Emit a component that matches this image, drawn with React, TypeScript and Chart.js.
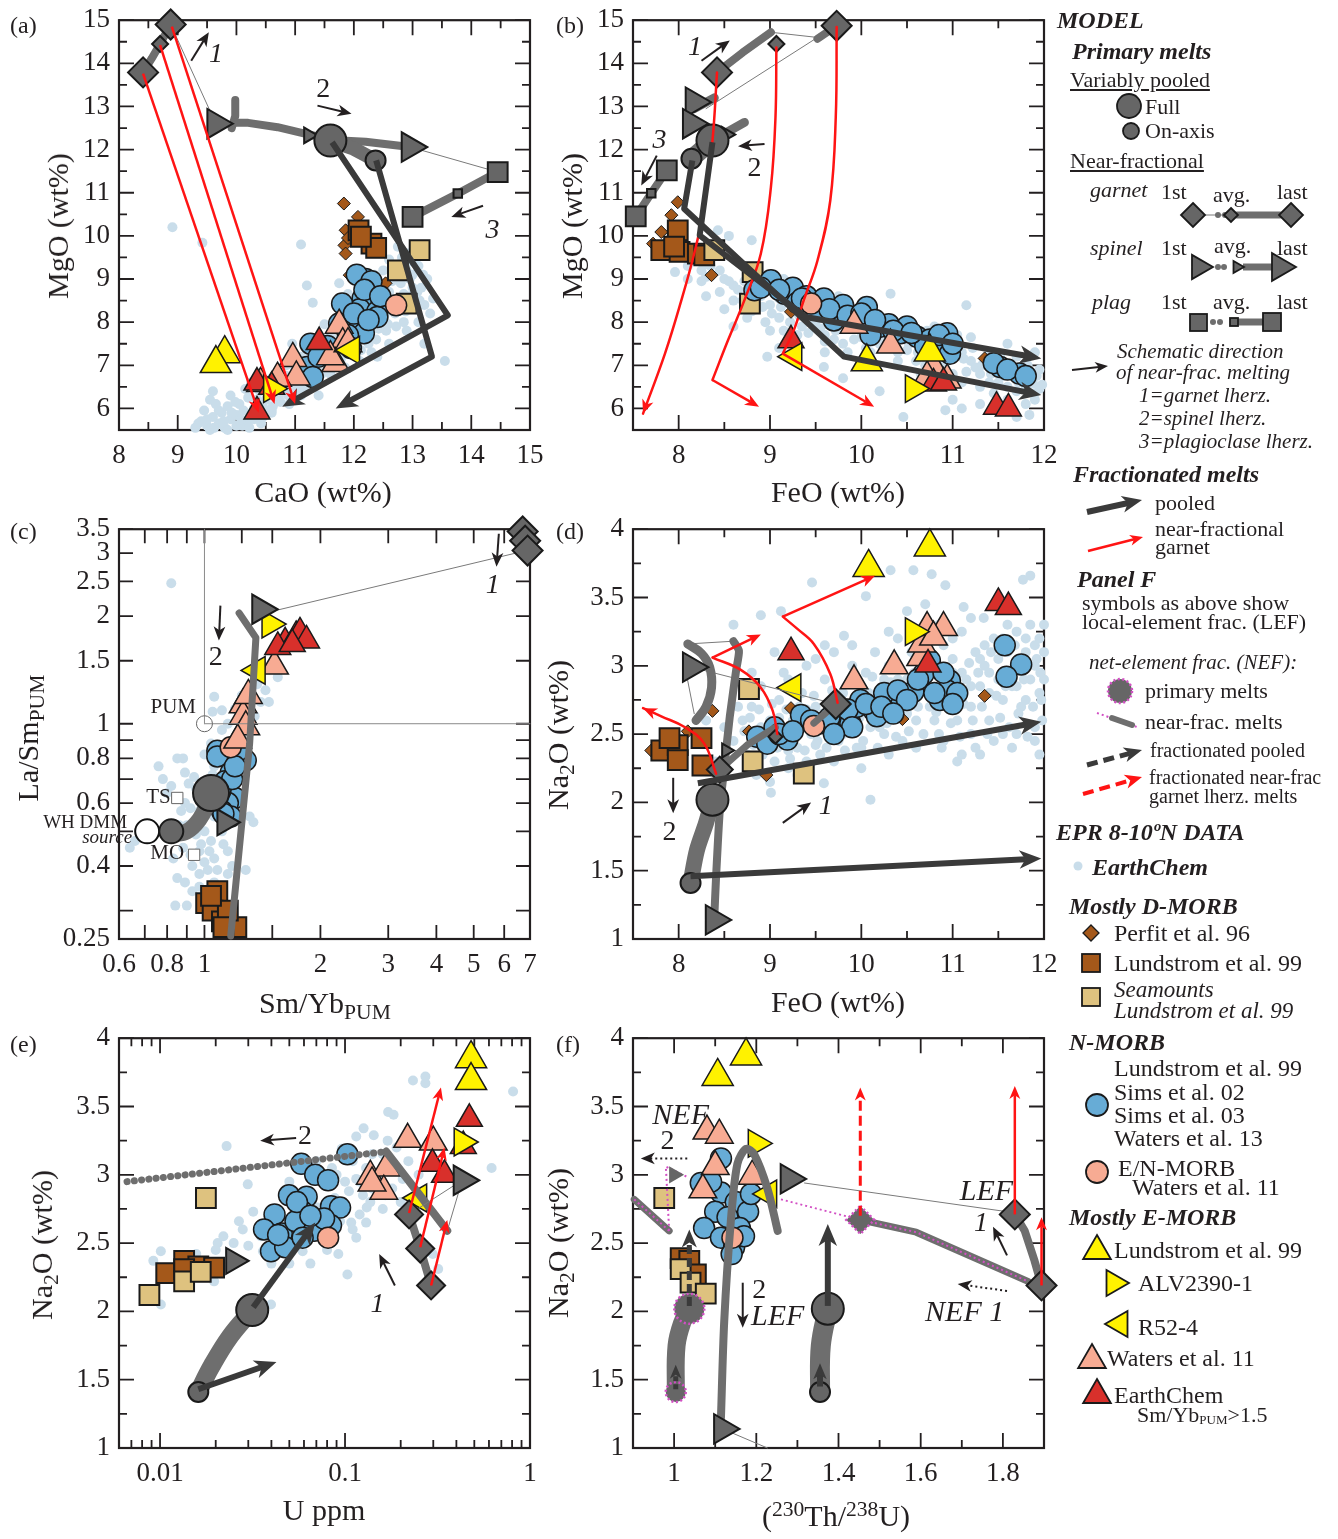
import React, { useEffect, useRef } from 'react';
import { Chart, registerables } from 'chart.js';

Chart.register(...registerables);

type P = [number, number];

// ---------------- axis ticks ----------------
const CAO_TICKS = [8, 8.5, 9, 9.5, 10, 10.5, 11, 11.5, 12, 12.5, 13, 13.5, 14, 14.5, 15];
const CAO_LABELS = [8, 9, 10, 11, 12, 13, 14, 15];
const MGO_TICKS = [5.5, 6, 6.5, 7, 7.5, 8, 8.5, 9, 9.5, 10, 10.5, 11, 11.5, 12, 12.5, 13, 13.5, 14, 14.5, 15];
const MGO_LABELS = [6, 7, 8, 9, 10, 11, 12, 13, 14, 15];
const FEO_TICKS = [7.5, 8, 8.5, 9, 9.5, 10, 10.5, 11, 11.5, 12];
const FEO_LABELS = [8, 9, 10, 11, 12];
const NA_TICKS = [1, 1.25, 1.5, 1.75, 2, 2.25, 2.5, 2.75, 3, 3.25, 3.5, 3.75, 4];
const NA_LABELS = [1, 1.5, 2, 2.5, 3, 3.5, 4];
const SMYB_TICKS = [0.6, 0.7, 0.8, 0.9, 1, 1.25, 1.5, 2, 3, 4, 5, 6, 7];
const SMYB_LABELS = [0.6, 0.8, 1, 2, 3, 4, 5, 6, 7];
const LASM_TICKS = [0.25, 0.3, 0.4, 0.5, 0.6, 0.7, 0.8, 0.9, 1, 1.5, 2, 2.5, 3, 3.5];
const LASM_LABELS = [0.25, 0.4, 0.6, 0.8, 1, 1.5, 2, 2.5, 3, 3.5];
const U_TICKS = [0.006, 0.007, 0.008, 0.009, 0.01, 0.02, 0.03, 0.04, 0.05, 0.06, 0.07, 0.08, 0.09, 0.1, 0.2, 0.3, 0.4, 0.5, 0.6, 0.7, 0.8, 0.9, 1];
const U_LABELS = [0.01, 0.1, 1];
const TH_TICKS = [0.9, 1, 1.1, 1.2, 1.3, 1.4, 1.5, 1.6, 1.7, 1.8, 1.9];
const TH_LABELS = [1, 1.2, 1.4, 1.6, 1.8];

// ---------------- panel (a): CaO vs MgO ----------------
const A_CLOUD: P[] = [[9.3,5.55],[9.4,5.7],[9.5,5.6],[9.6,5.8],[9.7,5.65],[9.75,5.9],[9.85,6.05],[9.9,5.75],[10.0,5.85],[10.05,6.1],[10.1,5.6],[10.2,6.25],[10.3,6.0],[10.4,6.4],[10.5,6.2],[10.55,6.55],[10.65,6.35],[10.7,6.8],[10.8,6.6],[10.85,7.0],[10.9,6.45],[11.0,6.9],[11.1,7.2],[11.2,6.6],[11.3,7.1],[11.35,7.4],[11.45,6.8],[11.55,7.3],[11.6,7.7],[11.7,7.0],[11.8,7.6],[11.9,8.0],[12.0,7.3],[12.05,7.8],[12.15,8.2],[12.25,7.5],[12.35,8.0],[12.45,8.4],[12.55,7.8],[12.6,8.7],[12.7,8.2],[12.8,8.9],[12.85,8.0],[12.95,8.6],[13.05,8.3],[13.15,8.8],[13.1,9.3],[12.9,9.6],[12.75,9.75],[13.0,9.1],[12.5,9.2],[11.2,8.85],[11.3,8.45],[11.75,8.9],[11.1,9.8],[9.42,9.84],[8.91,10.2],[13.55,7.1],[13.2,7.5],[13.3,8.2],[10.6,5.9],[9.55,6.2],[9.6,6.4],[10.25,6.6],[10.95,7.5],[11.5,7.95],[13.35,8.55],[12.3,8.8],[11.95,8.45],[9.8,5.55],[10.2,5.7],[10.45,5.8],[10.75,6.15],[11.05,6.5],[11.4,6.3],[12.4,7.2],
  [9.45,5.95],[9.65,6.1],[9.9,6.3],[10.15,6.45],[10.35,6.2],[10.6,6.7],[10.85,6.75],[11.05,7.05],[11.25,7.3],[11.5,7.55],[11.7,7.85],[11.85,8.2],[12.1,8.5],[12.3,8.3],[12.5,8.6],[12.65,8.95],[12.8,9.3],[12.95,9.0],[13.1,8.0],[12.9,7.8],[12.6,7.5],[12.3,7.3],[12.1,7.1],[11.85,6.95],[11.6,6.8],[11.35,6.55],[11.1,6.3],[10.9,6.1],[10.6,5.95],[10.3,5.75],[10.0,5.6],[9.55,5.5],[9.85,5.5],[10.45,6.05],[10.7,6.5],[11.2,7.0],[11.45,7.2],[12.5,8.0],[12.7,8.5],[13.0,8.8],[12.85,8.65],[12.2,7.9],[11.65,7.45],[13.2,8.4],[12.35,9.1],[12.6,9.45],[12.9,9.2],[13.25,9.0],[11.9,8.65],[12.2,8.7],
  [9.35,5.65],[9.5,5.75],[9.62,5.55],[9.7,5.95],[9.78,5.7],[9.92,5.9],[9.98,6.15],[10.08,5.75],[10.12,5.95],[10.22,5.55],[10.28,5.85],[10.38,6.1],[10.42,5.65],[10.5,5.95],[10.58,6.3],[10.62,6.05],[10.72,6.25],[10.78,6.45],[10.88,6.3],[10.95,6.6],[11.02,6.4],[11.08,6.75],[11.15,6.5],[11.22,6.85],[11.3,6.65],[11.38,6.95],[11.42,7.3],[11.5,7.05],[11.58,7.1],[11.65,7.6],[11.72,7.3],[11.78,7.15],[11.85,7.5],[11.92,7.25],[12.02,7.55],[12.08,7.65],[12.12,7.35],[12.2,7.6],[12.28,7.75],[12.38,7.6],[12.42,7.85],[12.52,8.15],[12.58,7.95],[12.65,8.3],[12.72,7.9],[12.78,8.4],[12.88,8.25],[12.92,8.45],[13.0,8.55],[13.08,8.7],[13.12,8.5],[13.18,9.1],[13.0,9.4],[12.82,9.5],[12.68,9.1]];
const A_PERFIT: P[] = [[11.83,10.75],[12.07,10.44],[11.86,10.13],[11.84,9.78],[11.86,9.59],[11.93,9.09],[12.54,8.9],[11.9,9.95]];
const A_LUND: P[] = [[12.08,10.13],[12.3,9.82],[12.38,9.72],[12.12,9.98]];
const A_SEA: P[] = [[13.12,9.67],[12.75,9.2],[12.9,8.43]];
const A_BLUE: P[] = [[12.2,9.0],[12.25,8.8],[12.3,8.65],[12.15,8.55],[12.35,8.45],[12.1,8.3],[12.4,8.25],[12.05,9.1],[11.8,8.43],[12.05,7.9],[12.4,8.12],[11.26,7.5],[11.2,6.96],[11.3,6.73],[11.75,7.97],[12.17,7.74],[11.9,7.7],[12.0,8.2],[11.55,7.45],[11.4,7.2],[12.25,8.05],[11.95,7.4],[12.3,8.95],[12.18,8.75],[12.45,8.6]];
const A_SALC: P[] = [[12.72,8.39]];
const A_SALT: P[] = [[11.75,7.93],[11.81,7.5],[10.96,7.16],[11.69,7.04],[11.02,6.73],[10.41,6.58],[11.6,7.2],[11.9,7.5],[10.7,6.7]];
const A_RED: P[] = [[11.41,7.54],[10.35,6.6],[10.35,5.93],[10.6,6.5]];
const A_YEL: P[] = [[9.8,7.27],[9.65,7.04]];
const A_ALV: P[] = [[10.6,6.46]];
const A_R52: P[] = [[11.96,7.35]];
const A_GARNET_LINE: P[] = [[8.41,13.79],[8.56,14.12],[8.7,14.45],[8.88,14.9]];
const A_GARNET: P[] = [[8.41,13.79],[8.7,14.45],[8.88,14.9]];
const A_SPINEL_STUB: P[] = [[9.98,13.15],[9.98,12.78],[9.92,12.5]];
const A_SPINEL_LINE: P[] = [[9.95,12.62],[10.2,12.62],[10.7,12.52],[11.2,12.36],[11.7,12.22],[12.2,12.18],[12.96,12.06]];
const A_SPINEL: P[] = [[9.65,12.6],[11.23,12.33],[12.96,12.06]];
const A_PLAG: P[] = [[13.0,10.44],[13.77,10.98],[14.45,11.48]];
const A_POOLED: P[] = [[11.6,12.21],[12.0,12.02],[12.37,11.75]];
const A_FULL: P[] = [[11.6,12.21]];
const A_ONAXIS: P[] = [[12.37,11.75]];
const A_LINK_1: P[] = [[8.88,14.9],[9.65,12.6]];
const A_LINK_2: P[] = [[12.96,12.06],[14.45,11.48]];
const A_FRAC_1: P[] = [[11.63,12.17],[13.6,8.16],[10.78,6.04]];
const A_FRAC_2: P[] = [[12.38,11.75],[13.33,7.2],[11.69,6.0]];
const A_RED_1: P[] = [[8.41,13.76],[10.38,5.9]];
const A_RED_2: P[] = [[8.7,14.42],[10.65,6.1]];
const A_RED_3: P[] = [[8.9,14.85],[11.0,6.1]];
const A_NOTE_1: P[] = [[9.23,14.06],[9.53,14.72]];
const A_NOTE_2: P[] = [[11.38,13.02],[11.96,12.83]];
const A_NOTE_3: P[] = [[14.2,10.7],[13.66,10.44]];

// ---------------- panel (b): FeO vs MgO ----------------
const B_CLOUD: P[] = [[7.96,9.16],[8.1,9.3],[8.2,9.5],[8.3,9.05],[8.35,9.3],[8.5,9.0],[8.6,8.85],[8.7,8.5],[8.75,8.75],[8.8,9.9],[8.85,8.3],[8.9,8.6],[8.95,8.0],[9.0,8.4],[9.05,8.9],[9.1,8.1],[9.15,7.8],[9.2,8.6],[9.3,8.5],[9.35,7.9],[9.4,8.25],[9.5,8.0],[9.55,8.45],[9.6,7.7],[9.7,8.1],[9.75,8.6],[9.8,7.5],[9.9,7.85],[10.0,8.1],[10.05,7.4],[10.14,7.89],[10.25,7.7],[10.32,8.66],[10.4,7.3],[10.5,7.74],[10.6,7.1],[10.7,7.55],[10.8,6.9],[10.86,7.58],[10.95,7.2],[11.05,7.7],[11.15,8.39],[11.2,7.1],[11.3,6.8],[11.4,7.3],[11.5,6.6],[11.59,6.96],[11.7,7.2],[11.8,6.5],[11.88,6.58],[11.95,6.9],[11.84,5.85],[10.46,5.8],[10.92,5.96],[11.0,6.2],[11.3,6.1],[9.59,6.96],[8.97,7.2],[9.1,7.4],[8.6,7.9],[8.43,10.13],[8.55,10.0],[9.8,6.7],[10.2,6.4],[11.6,6.2],[11.7,5.8],[8.4,9.55],[8.25,9.2],[9.25,7.6],[9.6,7.3],[10.1,7.05],[10.65,6.8],[11.1,6.6],[11.45,6.35],[11.9,6.2],
  [8.1,9.0],[8.25,8.95],[8.45,8.7],[8.6,8.5],[8.8,8.25],[8.95,8.7],[9.1,8.55],[9.25,8.3],[9.4,8.05],[9.55,7.85],[9.7,7.6],[9.85,7.9],[10.0,7.65],[10.2,7.5],[10.35,7.85],[10.5,7.35],[10.65,7.6],[10.8,7.25],[10.95,7.45],[11.1,7.3],[11.25,6.95],[11.4,7.05],[11.55,6.75],[11.7,6.7],[11.85,6.85],[11.95,6.45],[11.6,6.5],[11.3,6.5],[11.0,6.8],[10.7,7.0],[10.4,7.1],[10.1,7.3],[9.85,7.3],[9.6,7.55],[9.3,7.7],[9.0,7.8],[8.75,8.1],[8.5,8.3],[8.3,8.6],[9.15,9.0],[9.45,8.7],[9.9,8.3],[10.35,8.05],[10.8,7.9],[11.2,7.65],[11.6,7.5],[11.9,7.3],[11.8,6.1],[11.5,5.95],[11.1,6.0],
  [8.15,9.45],[8.3,9.35],[8.45,9.2],[8.55,8.95],[8.65,8.75],[8.72,8.95],[8.82,8.55],[8.92,8.35],[9.02,8.2],[9.12,8.35],[9.22,8.0],[9.32,8.15],[9.42,7.75],[9.52,8.2],[9.62,7.95],[9.72,7.8],[9.82,8.0],[9.92,7.6],[10.02,7.85],[10.12,7.55],[10.22,7.95],[10.32,7.45],[10.42,7.6],[10.52,7.5],[10.62,7.3],[10.72,7.8],[10.82,7.4],[10.92,7.05],[11.02,7.45],[11.12,7.15],[11.22,7.4],[11.32,7.0],[11.42,6.8],[11.52,7.2],[11.62,6.9],[11.72,6.6],[11.82,7.0],[11.92,6.75],[11.98,6.55],[11.9,6.35],[11.7,6.4],[11.4,6.6],[11.15,6.85],[10.9,6.6]];
const B_PERFIT: P[] = [[7.99,10.78],[7.92,10.48],[7.81,10.09],[7.72,9.82],[8.36,9.09],[11.35,7.16],[9.23,8.24]];
const B_LUND: P[] = [[7.99,10.13],[7.81,9.67],[8.01,9.63],[8.21,9.59],[8.28,9.55],[7.95,9.75]];
const B_SEA: P[] = [[8.39,9.67],[8.81,9.16],[8.78,8.43]];
const B_BLUE: P[] = [[8.83,8.74],[9.01,8.97],[9.16,8.66],[9.25,8.8],[9.4,8.6],[9.59,8.55],[9.7,8.04],[9.92,8.12],[10.06,8.35],[10.2,7.89],[10.3,7.95],[10.43,7.74],[10.61,7.66],[10.75,7.6],[10.86,7.5],[10.94,7.74],[10.97,7.27],[11.52,6.96],[11.73,6.81],[9.5,8.3],[9.8,8.4],[10.1,7.7],[10.5,7.9],[9.3,8.45],[10.7,7.45],
  [8.9,8.8],[9.1,8.75],[9.35,8.55],[9.65,8.3],[9.85,8.15],[10.0,8.2],[10.15,8.05],[10.35,7.8],[10.55,7.75],[10.85,7.7],[11.0,7.5],[11.45,7.05],[11.6,6.9],[11.8,6.75]];
const B_SALC: P[] = [[9.45,8.43]];
const B_SALT: P[] = [[9.92,7.93],[10.32,7.47],[10.79,6.96],[10.94,6.66],[10.72,6.73]];
const B_RED: P[] = [[9.23,7.58],[10.79,6.58],[10.9,6.6],[11.48,6.04],[11.61,6.0]];
const B_YEL: P[] = [[10.06,7.08],[10.75,7.31]];
const B_ALV: P[] = [[10.57,6.46]];
const B_R52: P[] = [[9.26,7.2]];
const B_GARNET_LINE_1: P[] = [[8.42,13.79],[8.7,14.25],[9.01,14.72]];
const B_GARNET_LINE_2: P[] = [[9.52,14.57],[9.73,14.87]];
const B_GARNET: P[] = [[8.42,13.79],[9.07,14.45],[9.73,14.87]];
const B_LINK_1: P[] = [[9.01,14.72],[9.52,14.6]];
const B_LINK_2: P[] = [[9.52,14.6],[8.3,12.95]];
const B_SPINEL_LINE_1: P[] = [[8.17,12.95],[8.39,13.2]];
const B_SPINEL_LINE_2: P[] = [[8.08,11.8],[8.4,12.25],[8.72,12.63]];
const B_SPINEL: P[] = [[8.17,13.1],[8.14,12.6],[8.52,12.35]];
const B_POOLED: P[] = [[8.14,11.79],[8.37,12.21]];
const B_FULL: P[] = [[8.37,12.21]];
const B_ONAXIS: P[] = [[8.14,11.79]];
const B_PLAG: P[] = [[7.53,10.45],[7.7,10.99],[7.87,11.52]];
const B_FRAC_1: P[] = [[8.15,11.75],[8.06,10.63],[9.81,7.2],[11.97,6.31]];
const B_FRAC_2: P[] = [[8.37,12.17],[8.23,10.01],[9.39,8.12],[11.97,7.16]];
const B_RED_1: P[] = [[8.42,13.79],[8.37,12.2],[8.28,10.67],[8.17,9.59],[8.03,8.51],[7.85,7.27],[7.61,5.88]];
const B_RED_2A: P[] = [[9.07,14.37],[9.06,12.75],[9.01,11.13],[8.9,9.59],[8.72,8.51],[8.54,7.58],[8.37,6.66]];
const B_RED_2B: P[] = [[8.37,6.66],[8.88,6.04]];
const B_RED_3A: P[] = [[9.73,14.84],[9.72,12.75],[9.66,10.82],[9.52,9.43],[9.37,8.51],[9.26,7.81],[9.14,7.27]];
const B_RED_3B: P[] = [[9.14,7.27],[10.14,6.04]];
const B_NOTE_1: P[] = [[8.25,14.06],[8.56,14.53]];
const B_NOTE_2: P[] = [[8.94,12.13],[8.65,12.08]];
const B_NOTE_3: P[] = [[7.76,11.86],[7.59,11.17]];

// ---------------- panel (c): Sm/Yb vs La/Sm ----------------
const C_CLOUD: P[] = [[0.76,0.76],[0.85,0.8],[0.88,0.8],[0.89,0.73],[0.94,0.71],[0.91,0.68],[0.82,0.67],[0.96,0.62],[0.89,0.6],[0.97,0.57],[1.06,0.55],[1.11,0.5],[1.04,0.47],[1.12,0.46],[0.97,0.44],[1.06,0.42],[1.15,0.44],[1.02,0.39],[1.15,0.38],[1.28,0.39],[0.85,0.37],[0.89,0.36],[0.97,0.35],[1.06,0.36],[0.84,0.31],[0.93,0.34],[1.34,0.53],[1.31,0.55],[1.05,1.08],[1.11,1.09],[1.15,1.0],[1.06,1.19],[1.11,0.96],[1.04,0.88],[1.44,1.24],[1.47,1.15],[1.55,1.35],[1.37,1.29],[0.64,0.45],[0.66,0.47],[1.06,0.76],[1.15,0.73],[1.2,0.61],[0.82,2.47],[0.9,0.52],[0.95,0.49],[1.0,0.41],[0.92,0.43],[1.1,0.6],[0.78,0.7],[0.8,0.64],[1.2,1.1],[1.25,1.2],[1.0,0.33],[0.9,0.31],[1.0,0.82],[0.87,0.57],
  [0.95,0.52],[1.0,0.5],[0.98,0.46],[1.03,0.44],[0.93,0.4],[0.97,0.38],[1.08,0.39],[0.88,0.45],[0.86,0.52],[0.92,0.58],[1.0,0.68],[1.05,0.72],[0.95,0.66],[1.1,0.78],[1.3,0.95],[1.35,1.05],[1.4,1.15],[1.25,0.9],[0.83,0.42],[1.18,0.4]];
const C_LUND: P[] = [[1.08,0.34],[1.01,0.315],[1.05,0.3],[1.11,0.28],[1.21,0.27],[1.15,0.3],[1.04,0.33],[1.12,0.27]];
const C_BLUE: P[] = [[1.08,0.84],[1.08,0.81],[1.28,0.79],[1.17,0.73],[1.15,0.67],[1.2,0.62],[1.15,0.6],[1.11,0.57],[1.17,0.55],[1.06,0.61],[1.13,0.69],[1.22,0.84],[1.1,0.65],[1.18,0.7],[1.12,0.56],[1.2,0.76]];
const C_SALC: P[] = [[1.17,0.86]];
const C_SALT: P[] = [[1.26,1.13],[1.26,1.05],[1.28,0.98],[1.22,0.9],[1.52,1.45],[1.3,1.2]];
const C_RED: P[] = [[1.62,1.69],[1.73,1.76],[1.77,1.8],[1.84,1.71],[1.55,1.64],[1.69,1.67]];
const C_ALV: P[] = [[1.48,1.9]];
const C_R52: P[] = [[1.37,1.41]];
const C_GARNET: P[] = [[6.7,3.45],[6.8,3.25],[6.9,3.05]];
const C_LINK: P[] = [[6.85,3.05],[1.52,2.07]];
const C_SPINEL_LINE: P[] = [[1.23,2.04],[1.36,1.74],[1.31,0.88],[1.17,0.255]];
const C_SPINEL: P[] = [[1.4,2.09],[1.13,0.53]];
const C_POOLED: P[] = [[0.82,0.49],[0.9,0.5],[0.97,0.54],[1.02,0.6],[1.04,0.64]];
const C_FULL: P[] = [[1.04,0.64]];
const C_ONAXIS: P[] = [[0.82,0.5]];
const C_WHDMM: P[] = [[0.71,0.5]];
const C_PUM: P[] = [[1, 1]];
const C_PUM_V: P[] = [[1, 1],[1, 3.5]];
const C_PUM_H: P[] = [[1, 1],[7, 1]];
const C_TS: P[] = [[0.85,0.62]];
const C_MO: P[] = [[0.94,0.43]];
const C_NOTE_1: P[] = [[5.81,3.4],[5.73,2.75]];
const C_NOTE_2: P[] = [[1.1,2.14],[1.09,1.71]];

// ---------------- panel (d): FeO vs Na2O ----------------
const D_CLOUD: P[] = [[8.2,2.5],[8.3,2.6],[8.5,2.55],[8.6,2.45],[8.7,2.6],[8.75,2.35],[8.8,2.7],[8.85,2.5],[8.9,2.85],[8.95,2.4],[9.0,2.6],[9.05,2.3],[9.1,2.75],[9.15,2.5],[9.2,2.9],[9.25,2.6],[9.3,2.4],[9.35,2.8],[9.4,3.0],[9.45,2.5],[9.5,2.7],[9.55,2.35],[9.6,2.9],[9.65,2.6],[9.7,3.1],[9.75,2.45],[9.8,2.8],[9.85,2.65],[9.9,3.0],[9.95,2.4],[10.0,2.7],[10.05,2.95],[10.1,2.55],[10.15,3.1],[10.2,2.8],[10.25,2.5],[10.3,3.0],[10.35,2.7],[10.4,3.2],[10.45,2.45],[10.5,2.9],[10.55,3.1],[10.6,2.6],[10.65,2.85],[10.7,3.2],[10.75,2.7],[10.8,3.0],[10.85,2.5],[10.9,3.15],[10.95,2.8],[11.0,3.05],[11.05,2.6],[11.1,3.25],[11.15,2.9],[11.2,2.7],[11.25,3.1],[11.3,2.85],[11.35,3.0],[11.4,2.6],[11.45,3.2],[11.5,2.9],[11.55,2.75],[11.6,3.1],[11.65,2.85],[11.7,3.25],[11.75,2.7],[11.8,3.0],[11.85,2.9],[11.9,3.15],[11.95,2.8],[11.98,2.6],[11.9,2.45],[11.65,2.4],[11.3,2.35],[11.05,2.3],[12.0,3.3],[9.46,3.61],[10.05,3.51],[10.32,3.7],[10.57,3.7],[10.77,3.67],[10.92,3.59],[11.77,3.63],[11.85,3.66],[8.9,3.37],[9.12,3.4],[9.81,3.22],[10.1,2.02],[9.59,2.14],[9.01,2.07],[11.12,3.43],[11.34,3.35],[9.0,2.15],[9.3,2.2],[10.0,2.25],[8.4,2.3],[8.6,3.3],[11.95,2.35],[11.7,2.5],[10.7,3.45],[9.6,3.15],[10.25,2.9],[10.6,2.95],[11.0,2.95],[11.4,2.95],[11.8,2.75],[10.85,3.3],[11.2,3.35],
  [8.9,2.55],[9.0,2.45],[9.1,2.62],[9.2,2.38],[9.3,2.55],[9.4,2.68],[9.5,2.42],[9.6,2.55],[9.7,2.72],[9.8,2.5],[9.9,2.62],[10.0,2.85],[10.1,2.68],[10.2,2.55],[10.3,2.75],[10.4,2.9],[10.5,2.65],[10.6,2.78],[10.7,2.95],[10.8,2.6],[10.9,2.85],[11.0,2.7],[11.1,2.95],[11.2,2.85],[11.3,3.05],[11.4,2.8],[11.5,3.05],[11.6,2.95],[11.7,2.85],[11.8,3.1],[11.9,3.0],[12.0,2.9],[12.0,3.1],[11.95,3.2],[11.85,3.3],[11.6,3.3],[11.55,2.5],[11.2,2.5],[10.9,2.45],[10.6,2.4],[10.3,2.35],[10.0,2.4],[9.7,2.3],[9.4,2.3],[9.2,2.25],[8.85,2.2],[9.15,2.95],[9.5,3.05],[9.9,3.15],[10.3,3.25],[10.7,3.1],[11.0,3.2],[11.35,3.15],[11.75,3.05],[8.65,2.7],[8.8,2.95],[9.05,3.1],[10.5,3.4],[11.5,3.45],[11.9,2.55],
  [8.72,2.52],[8.78,2.62],[8.82,2.42],[8.88,2.68],[8.92,2.35],[8.98,2.5],[9.02,2.72],[9.08,2.4],[9.12,2.55],[9.18,2.68],[9.22,2.32],[9.28,2.48],[9.32,2.7],[9.38,2.38],[9.42,2.58],[9.48,2.78],[9.52,2.45],[9.58,2.65],[9.62,2.4],[9.68,2.82],[9.72,2.52],[9.78,2.68],[9.82,2.38],[9.88,2.9],[9.92,2.52],[9.98,2.62],[10.02,2.45],[10.08,2.8],[10.12,2.92],[10.18,2.4],[10.22,2.66],[10.28,2.58],[10.32,2.88],[10.38,2.48],[10.42,2.65],[10.48,2.78],[10.52,2.52],[10.58,2.95],[10.62,2.7],[10.68,2.5],[10.72,2.82],[10.78,3.08],[10.82,2.66],[10.88,2.4],[10.92,2.95],[10.98,2.58],[11.02,2.85],[11.08,2.48],[11.12,2.72],[11.18,3.02],[11.22,2.6],[11.28,2.95],[11.32,2.7],[11.38,2.5],[11.42,3.1],[11.48,2.78],[11.52,2.62],[11.58,2.85],[11.62,2.55],[11.68,3.0],[11.72,2.65],[11.78,2.9],[11.82,2.48],[11.88,2.7],[11.92,3.05],[11.97,2.75],[11.96,2.95],[11.8,3.2],[11.68,3.15],[11.55,3.2],[11.45,2.45],[11.25,2.4],[11.1,2.35]];
const D_PERFIT: P[] = [[7.7,2.38],[7.92,2.48],[8.1,2.52],[8.37,2.67],[8.77,2.52],[8.96,2.2],[9.23,2.69],[10.45,2.61],[11.35,2.78]];
const D_LUND: P[] = [[7.81,2.38],[7.99,2.42],[7.99,2.31],[8.25,2.47],[8.26,2.27],[7.9,2.47]];
const D_SEA: P[] = [[8.77,2.83],[8.81,2.3],[9.37,2.21]];
const D_BLUE: P[] = [[8.86,2.48],[9.05,2.55],[9.19,2.46],[8.97,2.43],[9.34,2.64],[9.56,2.58],[9.77,2.63],[9.88,2.58],[9.95,2.7],[9.99,2.75],[10.14,2.67],[10.17,2.63],[10.32,2.72],[10.43,2.77],[10.57,2.81],[10.68,2.94],[10.86,2.75],[10.97,2.89],[10.94,2.82],[10.75,3.04],[11.57,3.15],[11.75,3.01],[11.59,2.92],[10.25,2.8],
  [9.1,2.5],[9.25,2.52],[9.45,2.6],[9.65,2.62],[9.85,2.68],[10.05,2.72],[10.22,2.7],[10.4,2.82],[10.5,2.75],[10.62,2.9],[10.8,2.8],[11.05,2.8],[10.9,2.95],[11.0,2.72],[10.35,2.65],[9.9,2.55],[9.7,2.5]];
const D_SALC: P[] = [[9.48,2.56]];
const D_SALT: P[] = [[9.92,2.89],[10.36,3.0],[10.65,3.06],[10.66,3.16],[10.72,3.28],[10.9,3.28],[10.79,3.21]];
const D_RED: P[] = [[9.23,3.1],[10.73,3.01],[11.5,3.46],[11.61,3.43]];
const D_YEL: P[] = [[10.08,3.72],[10.75,3.87]];
const D_ALV: P[] = [[10.57,3.25]];
const D_R52: P[] = [[9.25,2.84]];
const D_SPINEL_LINE: P[] = [[8.39,1.16],[8.41,1.46],[8.45,1.94],[8.5,2.26],[8.56,2.63],[8.63,2.97],[8.66,3.11],[8.6,3.18]];
const D_SPINEL_CURVE: P[] = [[8.1,3.16],[8.25,3.09],[8.34,2.99],[8.36,2.84],[8.3,2.7],[8.19,2.6]];
const D_SPINEL: P[] = [[8.14,2.99],[8.52,2.38],[8.39,1.14]];
const D_LINK_1: P[] = [[8.1,3.16],[8.6,3.18]];
const D_LINK_2: P[] = [[8.14,2.99],[9.72,2.72]];
const D_LINK_3: P[] = [[8.07,2.99],[8.17,2.65]];
const D_GARNET_LINE_1: P[] = [[8.45,2.24],[8.75,2.42],[9.06,2.55]];
const D_GARNET_LINE_2: P[] = [[9.48,2.58],[9.72,2.72]];
const D_GARNET: P[] = [[8.45,2.24],[9.06,2.48],[9.72,2.72]];
const D_POOLED: P[] = [[8.13,1.41],[8.2,1.65],[8.3,1.85],[8.37,2.02]];
const D_FULL: P[] = [[8.37,2.02]];
const D_ONAXIS: P[] = [[8.13,1.41]];
const D_FRAC_1: P[] = [[8.13,1.46],[11.97,1.59]];
const D_FRAC_2: P[] = [[8.21,2.14],[11.97,2.59]];
const D_RED_1: P[] = [[8.41,2.21],[8.28,2.43],[8.07,2.55],[7.81,2.63],[7.61,2.69]];
const D_RED_2A: P[] = [[9.08,2.5],[9.03,2.67],[8.9,2.84],[8.68,2.97],[8.37,3.06]];
const D_RED_2B: P[] = [[8.37,3.06],[8.9,3.23]];
const D_RED_3A: P[] = [[9.74,2.73],[9.66,2.94],[9.48,3.16],[9.3,3.27],[9.14,3.36]];
const D_RED_3B: P[] = [[9.14,3.36],[10.15,3.66]];
const D_NOTE_1: P[] = [[7.94,2.18],[7.94,1.92]];
const D_NOTE_2: P[] = [[9.14,1.85],[9.45,2.0]];

// ---------------- panel (e): U vs Na2O ----------------
const E_CLOUD: P[] = [[0.0229,3.21],[0.0298,2.93],[0.0267,2.66],[0.0205,2.5],[0.0101,2.44],[0.0101,2.05],[0.0196,2.22],[0.0398,2.05],[0.0319,2.73],[0.0594,2.68],[0.096,3.19],[0.115,3.28],[0.126,3.34],[0.143,3.29],[0.171,3.46],[0.183,3.44],[0.233,3.69],[0.272,3.72],[0.272,3.67],[0.115,2.97],[0.105,2.88],[0.131,2.76],[0.115,2.54],[0.103,2.27],[0.62,3.05],[0.81,3.61],[0.319,2.31],[0.298,2.42],[0.088,2.83],[0.094,2.66],[0.071,2.76],[0.077,2.54],[0.059,2.44],[0.12,2.71],[0.137,2.8],[0.15,2.97],[0.179,3.07],[0.205,2.97],[0.092,2.42],[0.036,2.44],[0.0157,2.42],[0.015,2.32],[0.0092,2.37],[0.11,3.1],[0.13,3.05],[0.16,3.15],[0.14,2.9],[0.125,2.85],[0.1,2.95],[0.085,3.05],[0.165,2.85],[0.19,3.2],[0.2,2.8],[0.108,2.65],[0.25,3.0],[0.045,2.65],[0.028,2.6],[0.018,2.35],[0.03,2.48],
  [0.05,2.95],[0.07,3.1],[0.09,3.0],[0.12,2.95],[0.14,3.15],[0.17,3.25],[0.11,2.6],[0.1,2.75],[0.13,2.65],[0.16,2.75],[0.18,2.9],[0.22,3.1],[0.08,2.45],[0.065,2.35],[0.05,2.35],[0.04,2.35],[0.035,2.55],[0.025,2.5],[0.022,2.55],[0.02,2.45]];
const E_LUND: P[] = [[0.0108,2.28],[0.0135,2.37],[0.0161,2.33],[0.0196,2.32],[0.0135,2.31]];
const E_SEA: P[] = [[0.00876,2.12],[0.0135,2.22],[0.0166,2.29],[0.0177,2.83]];
const E_BLUE: P[] = [[0.103,3.15],[0.058,3.08],[0.069,3.0],[0.081,2.96],[0.0498,2.85],[0.062,2.84],[0.084,2.77],[0.094,2.76],[0.0416,2.71],[0.059,2.73],[0.0365,2.6],[0.0455,2.57],[0.054,2.66],[0.068,2.59],[0.0398,2.44],[0.0475,2.47],[0.059,2.54],[0.084,2.63],[0.0435,2.56],[0.077,2.68],[0.055,2.8],[0.065,2.7]];
const E_SALC: P[] = [[0.081,2.54]];
const E_SALT: P[] = [[0.137,2.99],[0.167,3.05],[0.162,2.88],[0.218,3.26],[0.3,3.24],[0.14,2.94]];
const E_RED: P[] = [[0.47,3.41],[0.297,3.08],[0.345,3.0],[0.436,3.21]];
const E_YEL: P[] = [[0.48,3.85],[0.48,3.69]];
const E_ALV: P[] = [[0.43,3.24]];
const E_R52: P[] = [[0.25,2.83]];
const E_BEADS: P[] = [[0.00663,2.95],[0.167,3.17]];
const E_SPINEL_LINE: P[] = [[0.167,3.17],[0.357,2.59]];
const E_SPINEL: P[] = [[0.025,2.37],[0.43,2.96]];
const E_GARNET: P[] = [[0.222,2.71],[0.255,2.46],[0.292,2.19]];
const E_LINK_1: P[] = [[0.43,2.96],[0.222,2.71]];
const E_LINK_2: P[] = [[0.43,2.96],[0.357,2.59]];
const E_POOLED: P[] = [[0.0161,1.41],[0.019,1.6],[0.024,1.82],[0.0315,2.01]];
const E_FULL: P[] = [[0.0315,2.01]];
const E_ONAXIS: P[] = [[0.0161,1.41]];
const E_FRAC_1: P[] = [[0.0319,2.03],[0.069,2.65]];
const E_FRAC_2: P[] = [[0.0161,1.43],[0.0426,1.63]];
const E_RED_1: P[] = [[0.222,2.72],[0.33,3.64]];
const E_RED_2: P[] = [[0.255,2.47],[0.345,3.2]];
const E_RED_3: P[] = [[0.292,2.19],[0.357,2.67]];
const E_NOTE_1: P[] = [[0.0544,3.27],[0.0348,3.25]];
const E_NOTE_2: P[] = [[0.186,2.19],[0.153,2.42]];

// ---------------- panel (f): (230Th/238U) vs Na2O ----------------
const F_LUND: P[] = [[1.016,2.39],[1.037,2.37],[1.053,2.27]];
const F_SEA: P[] = [[0.976,2.83],[1.016,2.31],[1.04,2.21],[1.077,2.13]];
const F_BLUE: P[] = [[1.114,3.12],[1.065,2.94],[1.114,2.87],[1.15,2.8],[1.1,2.73],[1.13,2.69],[1.18,2.73],[1.073,2.61],[1.16,2.61],[1.114,2.54],[1.146,2.47],[1.14,2.42],[1.187,2.86],[1.09,2.95],[1.17,2.55]];
const F_SALC: P[] = [[1.142,2.54]];
const F_SALT: P[] = [[1.08,3.32],[1.11,3.29],[1.1,3.06],[1.07,2.89],[1.19,2.99]];
const F_YEL: P[] = [[1.106,3.72],[1.175,3.87]];
const F_ALV: P[] = [[1.2,3.23]];
const F_R52: P[] = [[1.23,2.86]];
const F_SPINEL_LINE: P[] = [[1.114,1.22],[1.122,1.93],[1.138,2.66],[1.154,3.08],[1.175,3.19],[1.195,3.15],[1.227,2.9],[1.252,2.59]];
const F_SPINEL: P[] = [[1.118,1.14],[1.28,2.97]];
const F_LINK_1: P[] = [[1.317,2.94],[1.81,2.73]];
const F_LINK_2: P[] = [[1.118,1.14],[1.227,1.0]];
const F_GARNET_LINE: P[] = [[1.829,2.71],[1.853,2.59],[1.877,2.37],[1.894,2.19]];
const F_GARNET: P[] = [[1.829,2.71],[1.894,2.19]];
const F_NEF_G_LINE: P[] = [[1.453,2.67],[1.589,2.58],[1.861,2.22]];
const F_NEF_G_PINK: P[] = [[1.26,2.82],[1.453,2.67]];
const F_NEF_DIAMOND: P[] = [[1.453,2.67]];
const F_NEF_S_LINE: P[] = [[0.903,2.82],[0.988,2.59]];
const F_NEF_S_PINK: P[] = [[0.988,2.59],[0.98,3.06],[1.035,2.98]];
const F_NEF_TRI: P[] = [[1.0,3.0]];
const F_NEF_BAND: P[] = [[1.004,1.41],[1.006,1.75],[1.02,1.92],[1.037,2.02]];
const F_NEF_CIRC: P[] = [[1.004,1.41],[1.037,2.02]];
const F_LEF_BAND: P[] = [[1.355,1.41],[1.357,1.75],[1.374,2.02]];
const F_LEF_FULL: P[] = [[1.374,2.02]];
const F_LEF_ONAXIS: P[] = [[1.355,1.41]];
const F_FRAC_1: P[] = [[1.374,2.04],[1.374,2.64]];
const F_FRAC_2: P[] = [[1.355,1.45],[1.355,1.62]];
const F_NEF_FRAC_1: P[] = [[1.037,2.04],[1.037,2.6]];
const F_NEF_FRAC_2: P[] = [[1.004,1.43],[1.004,1.61]];
const F_RED_1: P[] = [[1.829,2.71],[1.829,3.65]];
const F_RED_2: P[] = [[1.894,2.19],[1.894,2.69]];
const F_RED_3: P[] = [[1.453,2.7],[1.453,3.64]];
const F_NOTE_1: P[] = [[1.032,3.12],[0.919,3.12]];
const F_NOTE_2: P[] = [[1.167,2.21],[1.167,1.88]];
const F_NOTE_3: P[] = [[1.81,2.41],[1.776,2.62]];
const F_NOTE_4: P[] = [[1.81,2.15],[1.69,2.2]];

// ---------------- styles ----------------
const FONT = '"Liberation Serif", "Times New Roman", Times, serif';
const INK = '#231f20';
const COL = {
  cloud: '#c9ddea', blue: '#67acd6', salmon: '#f7ab93', yellow: '#fff200', red: '#d8302b',
  brown: '#a4581a', tan: '#dec27f', model: '#666666', band: '#6e6e6e', dark: '#3a3a3a',
  arrowRed: '#ff1414', thin: '#7a7a7a', pink: '#d24fc4',
};
const YW = 90, PT = 24, PR = 24, XH = 55, PW = 411, PH = 411;
const MODEL_PT = { pointBorderColor: '#1a1a1a', pointBorderWidth: 2 };

const xy = (a: P[]) => a.map(([x, y]) => ({ x, y }));
const mk = (a: P[], style: string, fill: string, r: any, extra: any = {}) => ({
  data: xy(a), showLine: false, pointStyle: style, pointBackgroundColor: fill,
  pointBorderColor: '#1a1a1a', pointBorderWidth: 1.5, pointRadius: r, pointHoverRadius: r, clip: false, ...extra,
});
const ln = (a: P[], color: string, w: number, extra: any = {}) => ({
  data: xy(a), showLine: true, borderColor: color, borderWidth: w, pointRadius: 0, pointHoverRadius: 0,
  borderCapStyle: 'round', borderJoinStyle: 'round', fill: false, clip: false, ...extra,
});
const arr = (a: P[], color: string, w: number, head: number, dash?: number[]) => ({
  data: xy(a), showLine: false, pointRadius: 0, pointHoverRadius: 0, clip: false,
  arrow: { color, w, head, dash, self: true },
});
const curveArr = (a: P[], color: string, w: number, head: number) => ({
  ...ln(a, color, w, { tension: 0.4 }), arrow: { color, w, head, self: false },
});
const pinkDots = (a: P[]) => ln(a, COL.pink, 2, { borderDash: [2, 3], borderCapStyle: 'butt' });

function dataLayers(o: any) {
  const out: any[] = [];
  if (o.cloud) out.push(mk(o.cloud, 'circle', COL.cloud, 5, { pointBorderWidth: 0, pointBorderColor: 'rgba(0,0,0,0)' }));
  if (o.perfit) out.push(mk(o.perfit, 'rectRot', COL.brown, 6.5, { pointBorderWidth: 1 }));
  if (o.lund) out.push(mk(o.lund, 'rect', COL.brown, 14, { pointBorderWidth: 2 }));
  if (o.sea) out.push(mk(o.sea, 'rect', COL.tan, 14, { pointBorderWidth: 2 }));
  out.push(mk(o.blue, 'circle', COL.blue, 10.5));
  out.push(mk(o.salC, 'circle', COL.salmon, 10.5));
  out.push(mk(o.salT, 'triangle', COL.salmon, 16));
  if (o.red) out.push(mk(o.red, 'triangle', COL.red, 15));
  if (o.yel) out.push(mk(o.yel, 'triangle', COL.yellow, 18));
  out.push(mk(o.alv, 'triangle', COL.yellow, 16, { pointRotation: 90 }));
  out.push(mk(o.r52, 'triangle', COL.yellow, 16, { pointRotation: -90 }));
  return out;
}

interface Txt { x: number; y: number; t: string; it?: boolean; s?: number; a?: string }
interface PanelCfg {
  L: number; T: number;
  xType: string; xMin: number; xMax: number; xTicks: number[]; xLabels: number[];
  yType: string; yMin: number; yMax: number; yTicks: number[]; yLabels: number[];
  tickLen: [number, number]; layers: any[]; texts: Txt[];
}

const PANEL_A: PanelCfg = {
  L: 119, T: 19, xType: 'linear', xMin: 8, xMax: 15, xTicks: CAO_TICKS, xLabels: CAO_LABELS,
  yType: 'linear', yMin: 5.5, yMax: 15, yTicks: MGO_TICKS, yLabels: MGO_LABELS, tickLen: [15, 8],
  layers: [
    ...dataLayers({ cloud: A_CLOUD, perfit: A_PERFIT, lund: A_LUND, sea: A_SEA, blue: A_BLUE, salC: A_SALC, salT: A_SALT, red: A_RED, yel: A_YEL, alv: A_ALV, r52: A_R52 }),
    ln(A_LINK_1, COL.thin, 1), ln(A_LINK_2, COL.thin, 1),
    ln(A_GARNET_LINE, COL.band, 8), ln(A_SPINEL_STUB, COL.band, 8), ln(A_SPINEL_LINE, COL.band, 8),
    ln(A_PLAG, COL.band, 8), ln(A_POOLED, COL.band, 14),
    mk(A_GARNET, 'rectRot', COL.model, [15, 8, 15], MODEL_PT),
    mk(A_SPINEL, 'triangle', COL.model, [17, 9, 17], { ...MODEL_PT, pointRotation: 90 }),
    mk(A_PLAG, 'rect', COL.model, [14, 6, 14], MODEL_PT),
    mk(A_FULL, 'circle', COL.model, 16, MODEL_PT), mk(A_ONAXIS, 'circle', COL.model, 10, MODEL_PT),
    arr(A_FRAC_1, COL.dark, 6, 22), arr(A_FRAC_2, COL.dark, 6, 22),
    arr(A_RED_1, COL.arrowRed, 2.5, 14), arr(A_RED_2, COL.arrowRed, 2.5, 14), arr(A_RED_3, COL.arrowRed, 2.5, 14),
    arr(A_NOTE_1, INK, 2, 14), arr(A_NOTE_2, INK, 2, 14), arr(A_NOTE_3, INK, 2, 14),
  ],
  texts: [
    { x: 9.65, y: 14.2, t: '1', it: true }, { x: 11.48, y: 13.38, t: '2' }, { x: 14.36, y: 10.13, t: '3', it: true },
  ],
};

const PANEL_B: PanelCfg = {
  L: 633, T: 19, xType: 'linear', xMin: 7.5, xMax: 12, xTicks: FEO_TICKS, xLabels: FEO_LABELS,
  yType: 'linear', yMin: 5.5, yMax: 15, yTicks: MGO_TICKS, yLabels: MGO_LABELS, tickLen: [15, 8],
  layers: [
    ...dataLayers({ cloud: B_CLOUD, perfit: B_PERFIT, lund: B_LUND, sea: B_SEA, blue: B_BLUE, salC: B_SALC, salT: B_SALT, red: B_RED, yel: B_YEL, alv: B_ALV, r52: B_R52 }),
    ln(B_LINK_1, COL.thin, 1), ln(B_LINK_2, COL.thin, 1),
    ln(B_GARNET_LINE_1, COL.band, 8), ln(B_GARNET_LINE_2, COL.band, 8),
    ln(B_SPINEL_LINE_1, COL.band, 9), ln(B_SPINEL_LINE_2, COL.band, 9),
    ln(B_PLAG, COL.band, 8), ln(B_POOLED, COL.band, 18),
    mk(B_GARNET, 'rectRot', COL.model, [15, 8, 15], MODEL_PT),
    mk(B_SPINEL, 'triangle', COL.model, [17, 17, 9], { ...MODEL_PT, pointRotation: 90 }),
    mk(B_PLAG, 'rect', COL.model, [14, 6, 14], MODEL_PT),
    mk(B_FULL, 'circle', COL.model, 16, MODEL_PT), mk(B_ONAXIS, 'circle', COL.model, 10, MODEL_PT),
    arr(B_FRAC_1, COL.dark, 6, 22), arr(B_FRAC_2, COL.dark, 6, 22),
    curveArr(B_RED_1, COL.arrowRed, 2.5, 14),
    ln(B_RED_2A, COL.arrowRed, 2.5, { tension: 0.4 }), arr(B_RED_2B, COL.arrowRed, 2.5, 14),
    ln(B_RED_3A, COL.arrowRed, 2.5, { tension: 0.4 }), arr(B_RED_3B, COL.arrowRed, 2.5, 14),
    arr(B_NOTE_1, INK, 2, 14), arr(B_NOTE_2, INK, 2, 14), arr(B_NOTE_3, INK, 2, 14),
  ],
  texts: [
    { x: 8.18, y: 14.37, t: '1', it: true }, { x: 8.83, y: 11.55, t: '2' }, { x: 7.79, y: 12.21, t: '3', it: true },
  ],
};

const PANEL_C: PanelCfg = {
  L: 119, T: 528, xType: 'logarithmic', xMin: 0.6, xMax: 7, xTicks: SMYB_TICKS, xLabels: SMYB_LABELS,
  yType: 'logarithmic', yMin: 0.25, yMax: 3.5, yTicks: LASM_TICKS, yLabels: LASM_LABELS, tickLen: [14, 14],
  layers: [
    ...dataLayers({ cloud: C_CLOUD, lund: C_LUND, blue: C_BLUE, salC: C_SALC, salT: C_SALT, red: C_RED, alv: C_ALV, r52: C_R52 }),
    ln(C_PUM_V, '#8a8a8a', 1), ln(C_PUM_H, '#8a8a8a', 1),
    mk(C_PUM, 'circle', 'rgba(255,255,255,0)', 8, { pointBorderColor: '#666', pointBorderWidth: 1 }),
    mk(C_TS, 'rect', '#fff', 8, { pointBorderColor: '#666', pointBorderWidth: 1 }),
    mk(C_MO, 'rect', '#fff', 8, { pointBorderColor: '#666', pointBorderWidth: 1 }),
    ln(C_LINK, COL.thin, 1),
    ln(C_SPINEL_LINE, COL.band, 7),
    ln(C_POOLED, COL.band, 16, { tension: 0.4 }),
    mk(C_WHDMM, 'circle', '#fff', 12, { pointBorderColor: '#111', pointBorderWidth: 2 }),
    mk(C_GARNET, 'rectRot', COL.model, 15, MODEL_PT),
    mk(C_SPINEL, 'triangle', COL.model, [17, 15], { ...MODEL_PT, pointRotation: 90 }),
    mk(C_FULL, 'circle', COL.model, 18, MODEL_PT), mk(C_ONAXIS, 'circle', COL.model, 12, MODEL_PT),
    arr(C_NOTE_1, INK, 2, 14), arr(C_NOTE_2, INK, 2, 14),
  ],
  texts: [
    { x: 5.6, y: 2.43, t: '1', it: true }, { x: 1.07, y: 1.53, t: '2' },
    { x: 0.83, y: 1.11, t: 'PUM', s: 21 }, { x: 0.76, y: 0.62, t: 'TS', s: 21 }, { x: 0.8, y: 0.434, t: 'MO', s: 21 },
    { x: 0.49, y: 0.527, t: 'WH DMM', s: 19 }, { x: 0.559, y: 0.478, t: 'source', s: 19, it: true },
  ],
};

const PANEL_D: PanelCfg = {
  L: 633, T: 528, xType: 'linear', xMin: 7.5, xMax: 12, xTicks: FEO_TICKS, xLabels: FEO_LABELS,
  yType: 'linear', yMin: 1, yMax: 4, yTicks: NA_TICKS, yLabels: NA_LABELS, tickLen: [15, 8],
  layers: [
    ...dataLayers({ cloud: D_CLOUD, perfit: D_PERFIT, lund: D_LUND, sea: D_SEA, blue: D_BLUE, salC: D_SALC, salT: D_SALT, red: D_RED, yel: D_YEL, alv: D_ALV, r52: D_R52 }),
    ln(D_LINK_1, COL.thin, 1), ln(D_LINK_2, COL.thin, 1), ln(D_LINK_3, COL.thin, 1),
    ln(D_POOLED, COL.band, 16, { tension: 0.3 }),
    ln(D_SPINEL_LINE, COL.band, 8, { tension: 0.2 }), ln(D_SPINEL_CURVE, COL.band, 9, { tension: 0.4 }),
    ln(D_GARNET_LINE_1, COL.band, 7), ln(D_GARNET_LINE_2, COL.band, 7),
    mk(D_SPINEL, 'triangle', COL.model, [17, 8, 17], { ...MODEL_PT, pointRotation: 90 }),
    mk(D_GARNET, 'rectRot', COL.model, [13, 7, 15], MODEL_PT),
    mk(D_FULL, 'circle', COL.model, 16, MODEL_PT), mk(D_ONAXIS, 'circle', COL.model, 10, MODEL_PT),
    arr(D_FRAC_1, COL.dark, 6, 22), arr(D_FRAC_2, COL.dark, 6, 22),
    curveArr(D_RED_1, COL.arrowRed, 2.5, 14),
    ln(D_RED_2A, COL.arrowRed, 2.5, { tension: 0.4 }), arr(D_RED_2B, COL.arrowRed, 2.5, 14),
    ln(D_RED_3A, COL.arrowRed, 2.5, { tension: 0.4 }), arr(D_RED_3B, COL.arrowRed, 2.5, 14),
    arr(D_NOTE_1, INK, 2, 14), arr(D_NOTE_2, INK, 2, 14),
  ],
  texts: [{ x: 7.9, y: 1.78, t: '2' }, { x: 9.61, y: 1.97, t: '1', it: true }],
};

const PANEL_E: PanelCfg = {
  L: 119, T: 1037, xType: 'logarithmic', xMin: 0.006, xMax: 1, xTicks: U_TICKS, xLabels: U_LABELS,
  yType: 'linear', yMin: 1, yMax: 4, yTicks: NA_TICKS, yLabels: NA_LABELS, tickLen: [15, 8],
  layers: [
    ...dataLayers({ cloud: E_CLOUD, lund: E_LUND, sea: E_SEA, blue: E_BLUE, salC: E_SALC, salT: E_SALT, red: E_RED, yel: E_YEL, alv: E_ALV, r52: E_R52 }),
    ln(E_BEADS, COL.band, 7, { borderDash: [0.1, 7.2] }),
    ln(E_SPINEL_LINE, COL.band, 8),
    ln(E_LINK_1, COL.thin, 1), ln(E_LINK_2, COL.thin, 1),
    ln(E_GARNET, COL.band, 8),
    ln(E_POOLED, COL.band, 18, { tension: 0.4 }),
    mk(E_SPINEL, 'triangle', COL.model, [15, 17], { ...MODEL_PT, pointRotation: 90 }),
    mk(E_GARNET, 'rectRot', COL.model, 14, MODEL_PT),
    mk(E_FULL, 'circle', COL.model, 16, MODEL_PT), mk(E_ONAXIS, 'circle', COL.model, 10, MODEL_PT),
    arr(E_FRAC_1, COL.dark, 6, 22), arr(E_FRAC_2, COL.dark, 6, 22),
    arr(E_RED_1, COL.arrowRed, 2.5, 13), arr(E_RED_2, COL.arrowRed, 2.5, 13), arr(E_RED_3, COL.arrowRed, 2.5, 13),
    arr(E_NOTE_1, INK, 2, 14), arr(E_NOTE_2, INK, 2, 14),
  ],
  texts: [{ x: 0.0607, y: 3.28, t: '2' }, { x: 0.15, y: 2.05, t: '1', it: true }],
};

const PANEL_F: PanelCfg = {
  L: 633, T: 1037, xType: 'linear', xMin: 0.9, xMax: 1.9, xTicks: TH_TICKS, xLabels: TH_LABELS,
  yType: 'linear', yMin: 1, yMax: 4, yTicks: NA_TICKS, yLabels: NA_LABELS, tickLen: [15, 8],
  layers: [
    ...dataLayers({ lund: F_LUND, sea: F_SEA, blue: F_BLUE, salC: F_SALC, salT: F_SALT, yel: F_YEL, alv: F_ALV, r52: F_R52 }),
    ln(F_LINK_1, COL.thin, 1), ln(F_LINK_2, COL.thin, 1),
    ln(F_SPINEL_LINE, COL.band, 8, { tension: 0.3 }),
    ln(F_GARNET_LINE, COL.band, 8),
    ln(F_NEF_G_LINE, COL.band, 7), pinkDots(F_NEF_G_LINE), pinkDots(F_NEF_G_PINK),
    ln(F_NEF_S_LINE, COL.band, 7), pinkDots(F_NEF_S_LINE), pinkDots(F_NEF_S_PINK),
    ln(F_NEF_BAND, COL.band, 18, { tension: 0.4 }),
    ln(F_LEF_BAND, COL.band, 20, { tension: 0.4 }),
    mk(F_SPINEL, 'triangle', COL.model, 17, { ...MODEL_PT, pointRotation: 90 }),
    mk(F_GARNET, 'rectRot', COL.model, 15, MODEL_PT),
    { ...mk(F_NEF_DIAMOND, 'rectRot', COL.model, 14, { pointBorderWidth: 0 }), ring: { color: COL.pink, shape: 'diamond' } },
    mk(F_NEF_TRI, 'triangle', COL.model, 10, { pointBorderWidth: 0, pointRotation: 90 }),
    { ...mk(F_NEF_CIRC, 'circle', COL.model, [10, 15], { pointBorderWidth: 0 }), ring: { color: COL.pink, shape: 'circle' } },
    mk(F_LEF_FULL, 'circle', COL.model, 16, MODEL_PT), mk(F_LEF_ONAXIS, 'circle', COL.model, 10, MODEL_PT),
    arr(F_FRAC_1, COL.dark, 6, 22), arr(F_FRAC_2, COL.dark, 6, 16),
    arr(F_NEF_FRAC_1, COL.dark, 5, 18, [9, 4]), arr(F_NEF_FRAC_2, COL.dark, 5, 14, [5, 3]),
    arr(F_RED_1, COL.arrowRed, 2.5, 13), arr(F_RED_2, COL.arrowRed, 2.5, 13), arr(F_RED_3, COL.arrowRed, 3, 13, [10, 5]),
    arr(F_NOTE_1, INK, 2, 14, [2, 3]), arr(F_NOTE_2, INK, 2, 14), arr(F_NOTE_3, INK, 2, 14), arr(F_NOTE_4, INK, 2, 14, [2, 3]),
  ],
  texts: [
    { x: 1.016, y: 3.43, t: 'NEF', it: true, s: 30 }, { x: 0.984, y: 3.24, t: '2' },
    { x: 1.207, y: 2.15, t: '2' }, { x: 1.252, y: 1.96, t: 'LEF', it: true, s: 30 },
    { x: 1.76, y: 2.87, t: 'LEF', it: true, s: 30 }, { x: 1.747, y: 2.64, t: '1', it: true },
    { x: 1.707, y: 1.99, t: 'NEF 1', it: true, s: 30 },
  ],
};

const PANELS = [PANEL_A, PANEL_B, PANEL_C, PANEL_D, PANEL_E, PANEL_F];

// ---------------- chart building ----------------
const near = (a: number, b: number) => Math.abs(a - b) < 1e-9 * Math.max(1, Math.abs(b));
const labelOf = (list: number[], v: number) => { const l = list.find((q) => near(q, v)); return l === undefined ? '' : String(l); };

function drawArrow(ctx: CanvasRenderingContext2D, pts: { x: number; y: number }[], o: any) {
  const n = pts.length; if (n < 2) return;
  const b = pts[n - 1], a = pts[n - 2];
  const ang = Math.atan2(b.y - a.y, b.x - a.x);
  const c = Math.cos(ang), s = Math.sin(ang);
  const hl = o.head, hw = o.head * 0.42;
  ctx.save();
  if (o.self) {
    ctx.strokeStyle = o.color; ctx.lineWidth = o.w; ctx.lineJoin = 'round'; ctx.lineCap = 'butt';
    ctx.setLineDash(o.dash || []);
    ctx.beginPath(); ctx.moveTo(pts[0].x, pts[0].y);
    for (let k = 1; k < n - 1; k++) ctx.lineTo(pts[k].x, pts[k].y);
    ctx.lineTo(b.x - c * hl * 0.7, b.y - s * hl * 0.7);
    ctx.stroke();
  }
  ctx.setLineDash([]);
  ctx.fillStyle = o.color; ctx.beginPath();
  ctx.moveTo(b.x, b.y);
  ctx.lineTo(b.x - c * hl + s * hw, b.y - s * hl - c * hw);
  ctx.lineTo(b.x - c * hl * 0.72, b.y - s * hl * 0.72);
  ctx.lineTo(b.x - c * hl - s * hw, b.y - s * hl + c * hw);
  ctx.closePath(); ctx.fill();
  ctx.restore();
}

function makePlugin(cfg: PanelCfg) {
  return {
    id: 'panelDecor',
    beforeDatasetsDraw(chart: any) {
      const { ctx, chartArea: ar, scales } = chart;
      const xs = scales.x, ys = scales.y;
      const [M, m] = cfg.tickLen;
      ctx.save(); ctx.strokeStyle = INK; ctx.lineWidth = 1.8; ctx.beginPath();
      for (const v of cfg.xTicks) {
        const px = xs.getPixelForValue(v); const len = labelOf(cfg.xLabels, v) ? M : m;
        ctx.moveTo(px, ar.bottom); ctx.lineTo(px, ar.bottom - len);
        ctx.moveTo(px, ar.top); ctx.lineTo(px, ar.top + len);
      }
      for (const v of cfg.yTicks) {
        const py = ys.getPixelForValue(v); const len = labelOf(cfg.yLabels, v) ? M : m;
        ctx.moveTo(ar.left, py); ctx.lineTo(ar.left + len, py);
        ctx.moveTo(ar.right, py); ctx.lineTo(ar.right - len, py);
      }
      ctx.stroke();
      ctx.lineWidth = 2.2; ctx.strokeRect(ar.left, ar.top, ar.right - ar.left, ar.bottom - ar.top);
      ctx.restore();
    },
    afterDatasetsDraw(chart: any) {
      const { ctx, scales } = chart;
      chart.data.datasets.forEach((ds: any, i: number) => {
        const meta = chart.getDatasetMeta(i);
        const els = meta.data.map((e: any) => ({ x: e.x, y: e.y }));
        if (ds.ring) {
          els.forEach((e: any, j: number) => {
            const rad = Array.isArray(ds.pointRadius) ? ds.pointRadius[j] : ds.pointRadius;
            ctx.save(); ctx.strokeStyle = ds.ring.color; ctx.lineWidth = 2.5; ctx.setLineDash([2, 2.5]);
            ctx.beginPath();
            if (ds.ring.shape === 'diamond') {
              ctx.moveTo(e.x, e.y - rad); ctx.lineTo(e.x + rad, e.y); ctx.lineTo(e.x, e.y + rad); ctx.lineTo(e.x - rad, e.y); ctx.closePath();
            } else ctx.arc(e.x, e.y, rad, 0, Math.PI * 2);
            ctx.stroke(); ctx.restore();
          });
        }
        if (ds.arrow) drawArrow(ctx, els, ds.arrow);
      });
      ctx.save();
      for (const t of cfg.texts) {
        ctx.font = `${t.it ? 'italic ' : ''}${t.s || 28}px ${FONT}`;
        ctx.fillStyle = INK; ctx.textAlign = (t.a || 'center') as CanvasTextAlign; ctx.textBaseline = 'middle';
        ctx.fillText(t.t, scales.x.getPixelForValue(t.x), scales.y.getPixelForValue(t.y));
      }
      ctx.restore();
    },
  };
}

function axis(type: string, min: number, max: number, ticks: number[], labels: number[], pos: string) {
  return {
    type, min, max, position: pos,
    grid: { display: false, drawTicks: false }, border: { display: false },
    ticks: {
      autoSkip: false, maxRotation: 0, minRotation: 0, padding: pos === 'bottom' ? 10 : 9,
      color: INK, font: { family: FONT, size: 27 },
      callback: (v: any) => labelOf(labels, Number(v)),
    },
    afterBuildTicks: (s: any) => { s.ticks = ticks.map((v) => ({ value: v })); },
    afterFit: (s: any) => { if (pos === 'bottom') s.height = XH; else s.width = YW; },
  };
}

function buildConfig(cfg: PanelCfg): any {
  const n = cfg.layers.length;
  return {
    type: 'scatter',
    data: { datasets: cfg.layers.map((d, i) => ({ ...d, order: n - i })) },
    options: {
      responsive: false, animation: false, events: [], devicePixelRatio: 1,
      layout: { padding: { left: 0, top: PT, right: PR, bottom: 0 } },
      plugins: { legend: { display: false }, tooltip: { enabled: false } },
      scales: {
        x: axis(cfg.xType, cfg.xMin, cfg.xMax, cfg.xTicks, cfg.xLabels, 'bottom'),
        y: axis(cfg.yType, cfg.yMin, cfg.yMax, cfg.yTicks, cfg.yLabels, 'left'),
      },
    },
    plugins: [makePlugin(cfg)],
  };
}

function Panel({ cfg }: { cfg: PanelCfg }) {
  const ref = useRef<HTMLCanvasElement | null>(null);
  useEffect(() => {
    if (!ref.current) return;
    const chart = new Chart(ref.current, buildConfig(cfg));
    return () => chart.destroy();
  }, [cfg]);
  return (
    <canvas ref={ref} width={YW + PW + PR} height={PT + PH + XH}
      style={{ position: 'absolute', left: cfg.L - YW, top: cfg.T - PT }} />
  );
}

// ---------------- html text ----------------
const Title = ({ x, y, rot, children }: any) => (
  <div style={{
    position: 'absolute', left: x, top: y, transform: `translate(-50%,-50%)${rot ? ' rotate(-90deg)' : ''}`,
    fontFamily: FONT, fontSize: 30, whiteSpace: 'nowrap', lineHeight: 1, color: INK,
  }}>{children}</div>
);
const Sub = ({ children }: any) => <sub style={{ fontSize: '0.72em', verticalAlign: '-0.3em' }}>{children}</sub>;
const Sup = ({ children }: any) => <sup style={{ fontSize: '0.72em', verticalAlign: '0.45em' }}>{children}</sup>;

const LetterTxt = ({ x, y, t }: any) => (
  <div style={{ position: 'absolute', left: x, top: y, transform: 'translateY(-50%)', fontFamily: FONT, fontSize: 24, lineHeight: 1, color: INK }}>{t}</div>
);

const LEG = [
  { x: 1057, y: 20, t: 'MODEL', s: 24, b: 1, i: 1 },
  { x: 1072, y: 51, t: 'Primary melts', s: 24, b: 1, i: 1 },
  { x: 1070, y: 80, t: 'Variably pooled', s: 22, u: 1 },
  { x: 1145, y: 107, t: 'Full', s: 22 },
  { x: 1145, y: 131, t: 'On-axis', s: 22 },
  { x: 1070, y: 161, t: 'Near-fractional', s: 22, u: 1 },
  { x: 1090, y: 190, t: 'garnet', s: 22, i: 1 }, { x: 1161, y: 192, t: '1st', s: 22 }, { x: 1213, y: 195, t: 'avg.', s: 22 }, { x: 1277, y: 192, t: 'last', s: 22 },
  { x: 1090, y: 248, t: 'spinel', s: 22, i: 1 }, { x: 1161, y: 248, t: '1st', s: 22 }, { x: 1214, y: 246, t: 'avg.', s: 22 }, { x: 1277, y: 248, t: 'last', s: 22 },
  { x: 1092, y: 302, t: 'plag', s: 22, i: 1 }, { x: 1161, y: 302, t: '1st', s: 22 }, { x: 1213, y: 302, t: 'avg.', s: 22 }, { x: 1277, y: 302, t: 'last', s: 22 },
  { x: 1117, y: 351, t: 'Schematic direction', s: 21, i: 1 },
  { x: 1116, y: 372, t: 'of near-frac. melting', s: 21, i: 1 },
  { x: 1139, y: 395, t: '1=garnet lherz.', s: 21, i: 1 },
  { x: 1139, y: 418, t: '2=spinel lherz.', s: 21, i: 1 },
  { x: 1139, y: 441, t: '3=plagioclase lherz.', s: 21, i: 1 },
  { x: 1073, y: 474, t: 'Fractionated melts', s: 24, b: 1, i: 1 },
  { x: 1155, y: 503, t: 'pooled', s: 22 },
  { x: 1155, y: 529, t: 'near-fractional', s: 22 },
  { x: 1155, y: 547, t: 'garnet', s: 22 },
  { x: 1077, y: 579, t: 'Panel F', s: 24, b: 1, i: 1 },
  { x: 1082, y: 603, t: 'symbols as above show', s: 22 },
  { x: 1082, y: 622, t: 'local-element frac. (LEF)', s: 22 },
  { x: 1089, y: 662, t: 'net-element frac. (NEF):', s: 21, i: 1 },
  { x: 1145, y: 691, t: 'primary melts', s: 22 },
  { x: 1145, y: 722, t: 'near-frac. melts', s: 22 },
  { x: 1150, y: 750, t: 'fractionated pooled', s: 20 },
  { x: 1149, y: 777, t: 'fractionated near-frac', s: 20 },
  { x: 1149, y: 796, t: 'garnet lherz. melts', s: 20 },
  { x: 1056, y: 832, t: 'EPR 8-10ºN DATA', s: 24, b: 1, i: 1 },
  { x: 1092, y: 867, t: 'EarthChem', s: 24, b: 1, i: 1 },
  { x: 1069, y: 906, t: 'Mostly D-MORB', s: 24, b: 1, i: 1 },
  { x: 1114, y: 933, t: 'Perfit et al. 96', s: 24 },
  { x: 1114, y: 963, t: 'Lundstrom et al. 99', s: 24 },
  { x: 1114, y: 989, t: 'Seamounts', s: 23, i: 1 },
  { x: 1114, y: 1010, t: 'Lundstrom et al. 99', s: 23, i: 1 },
  { x: 1069, y: 1042, t: 'N-MORB', s: 24, b: 1, i: 1 },
  { x: 1114, y: 1068, t: 'Lundstrom et al. 99', s: 24 },
  { x: 1114, y: 1092, t: 'Sims et al. 02', s: 24 },
  { x: 1114, y: 1115, t: 'Sims et al. 03', s: 24 },
  { x: 1114, y: 1138, t: 'Waters et al. 13', s: 24 },
  { x: 1118, y: 1168, t: 'E/N-MORB', s: 24 },
  { x: 1132, y: 1187, t: 'Waters et al. 11', s: 24 },
  { x: 1069, y: 1217, t: 'Mostly E-MORB', s: 24, b: 1, i: 1 },
  { x: 1114, y: 1250, t: 'Lundstrom et al. 99', s: 24 },
  { x: 1138, y: 1283, t: 'ALV2390-1', s: 24 },
  { x: 1138, y: 1327, t: 'R52-4', s: 24 },
  { x: 1107, y: 1358, t: 'Waters et al. 11', s: 24 },
  { x: 1114, y: 1395, t: 'EarthChem', s: 24 },
];

const dia = (cx: number, cy: number, r: number) => `${cx},${cy - r} ${cx + r},${cy} ${cx},${cy + r} ${cx - r},${cy}`;
const triR = (cx: number, cy: number, r: number) => `${cx - r * 0.5},${cy - r * 0.866} ${cx + r},${cy} ${cx - r * 0.5},${cy + r * 0.866}`;
const triL = (cx: number, cy: number, r: number) => `${cx + r * 0.5},${cy - r * 0.866} ${cx - r},${cy} ${cx + r * 0.5},${cy + r * 0.866}`;
const triU = (cx: number, cy: number, r: number) => `${cx},${cy - r} ${cx + r * 0.866},${cy + r * 0.5} ${cx - r * 0.866},${cy + r * 0.5}`;

function SvgArrow({ x1, y1, x2, y2, color, w, head, dash }: any) {
  const ang = Math.atan2(y2 - y1, x2 - x1); const c = Math.cos(ang), s = Math.sin(ang);
  const hw = head * 0.42;
  const pts = `${x2},${y2} ${x2 - c * head + s * hw},${y2 - s * head - c * hw} ${x2 - c * head * 0.72},${y2 - s * head * 0.72} ${x2 - c * head - s * hw},${y2 - s * head + c * hw}`;
  return (
    <g>
      <line x1={x1} y1={y1} x2={x2 - c * head * 0.7} y2={y2 - s * head * 0.7} stroke={color} strokeWidth={w} strokeDasharray={dash} />
      <polygon points={pts} fill={color} />
    </g>
  );
}

function Legend() {
  const st = { stroke: '#1a1a1a', strokeWidth: 1.8 };
  return (
    <>
      <svg style={{ position: 'absolute', left: 1050, top: 0 }} width={288} height={1539} viewBox="1050 0 288 1539">
        <circle cx={1129} cy={106} r={12} fill={COL.model} {...st} />
        <circle cx={1131} cy={131} r={8} fill={COL.model} {...st} />
        <line x1={1205} y1={215} x2={1230} y2={215} stroke={COL.thin} strokeWidth={1} />
        <circle cx={1218} cy={215} r={3} fill={COL.band} /><circle cx={1225} cy={215} r={3} fill={COL.band} />
        <line x1={1237} y1={215} x2={1280} y2={215} stroke={COL.band} strokeWidth={7} strokeLinecap="round" />
        <polygon points={dia(1193, 215, 12)} fill={COL.model} {...st} />
        <polygon points={dia(1231, 215, 7)} fill={COL.model} {...st} />
        <polygon points={dia(1291, 215, 12)} fill={COL.model} {...st} />
        <circle cx={1218} cy={267} r={3} fill={COL.band} /><circle cx={1224} cy={267} r={3} fill={COL.band} />
        <line x1={1243} y1={267} x2={1275} y2={267} stroke={COL.band} strokeWidth={7} />
        <polygon points={triR(1199, 267, 14)} fill={COL.model} {...st} />
        <polygon points={triR(1237, 267, 7)} fill={COL.model} {...st} />
        <polygon points={triR(1280, 267, 16)} fill={COL.model} {...st} />
        <circle cx={1213} cy={322} r={3} fill={COL.band} /><circle cx={1220} cy={322} r={3} fill={COL.band} />
        <line x1={1238} y1={322} x2={1263} y2={322} stroke={COL.band} strokeWidth={7} />
        <rect x={1190} y={314} width={17} height={17} fill={COL.model} {...st} />
        <rect x={1230} y={318} width={8} height={8} fill={COL.model} {...st} />
        <rect x={1263} y={313} width={18} height={18} fill={COL.model} {...st} />
        <SvgArrow x1={1072} y1={370} x2={1108} y2={366} color={INK} w={2} head={13} />
        <SvgArrow x1={1087} y1={512} x2={1142} y2={500} color={COL.dark} w={6} head={20} />
        <SvgArrow x1={1088} y1={551} x2={1143} y2={537} color={COL.arrowRed} w={2.5} head={13} />
        <circle cx={1120} cy={691} r={12} fill={COL.model} stroke={COL.pink} strokeWidth={2.5} strokeDasharray="2 2.5" />
        <line x1={1097} y1={713} x2={1137} y2={727} stroke={COL.pink} strokeWidth={2} strokeDasharray="2 3" />
        <line x1={1112} y1={718} x2={1132} y2={725} stroke={COL.band} strokeWidth={6} strokeLinecap="round" />
        <SvgArrow x1={1087} y1={765} x2={1142} y2={750} color={COL.dark} w={5} head={18} dash="11 6" />
        <SvgArrow x1={1083} y1={794} x2={1142} y2={777} color={COL.arrowRed} w={4} head={17} dash="11 6" />
        <circle cx={1078} cy={866} r={4.5} fill={COL.cloud} />
        <polygon points={dia(1091, 933, 8)} fill={COL.brown} {...st} strokeWidth={1.3} />
        <rect x={1082} y={954} width={18} height={18} fill={COL.brown} {...st} />
        <rect x={1082} y={988} width={18} height={18} fill={COL.tan} {...st} />
        <circle cx={1097} cy={1105} r={11} fill={COL.blue} {...st} />
        <circle cx={1097} cy={1172} r={11} fill={COL.salmon} {...st} />
        <polygon points={triU(1097, 1251, 16)} fill={COL.yellow} {...st} />
        <polygon points={triR(1114, 1283, 15)} fill={COL.yellow} {...st} />
        <polygon points={triL(1120, 1324, 15)} fill={COL.yellow} {...st} />
        <polygon points={triU(1092, 1360, 16)} fill={COL.salmon} {...st} />
        <polygon points={triU(1097, 1395, 16)} fill={COL.red} {...st} />
      </svg>
      {LEG.map((l: any, k) => (
        <div key={k} style={{
          position: 'absolute', left: l.x, top: l.y, transform: 'translateY(-50%)', fontFamily: FONT,
          fontSize: l.s, fontWeight: l.b ? 'bold' : 'normal', fontStyle: l.i ? 'italic' : 'normal',
          textDecoration: l.u ? 'underline' : 'none', lineHeight: 1, whiteSpace: 'nowrap', color: INK,
        }}>{l.t}</div>
      ))}
      <div style={{ position: 'absolute', left: 1137, top: 1415, transform: 'translateY(-50%)', fontFamily: FONT, fontSize: 22, lineHeight: 1, whiteSpace: 'nowrap', color: INK }}>
        Sm/Yb<span style={{ fontSize: 13, verticalAlign: '-0.2em' }}>PUM</span>&gt;1.5
      </div>
    </>
  );
}

export default function App() {
  return (
    <div style={{ position: 'absolute', left: 0, top: 0, width: 1338, height: 1539, overflow: 'hidden', background: '#fff' }}>
      {PANELS.map((p, i) => <Panel key={i} cfg={p} />)}
      <LetterTxt x={10} y={25} t="(a)" />
      <LetterTxt x={556} y={25} t="(b)" />
      <LetterTxt x={10} y={531} t="(c)" />
      <LetterTxt x={556} y={531} t="(d)" />
      <LetterTxt x={10} y={1044} t="(e)" />
      <LetterTxt x={556} y={1044} t="(f)" />
      <Title x={323} y={492}>CaO (wt%)</Title>
      <Title x={58} y={226} rot>MgO (wt%)</Title>
      <Title x={838} y={492}>FeO (wt%)</Title>
      <Title x={572} y={226} rot>MgO (wt%)</Title>
      <Title x={325} y={1006}>Sm/Yb<Sub>PUM</Sub></Title>
      <Title x={31} y={738} rot>La/Sm<Sub>PUM</Sub></Title>
      <Title x={838} y={1002}>FeO (wt%)</Title>
      <Title x={561} y={735} rot>Na<Sub>2</Sub>O (wt%)</Title>
      <Title x={324} y={1510}>U ppm</Title>
      <Title x={45} y={1245} rot>Na<Sub>2</Sub>O (wt%)</Title>
      <Title x={836} y={1515}>(<Sup>230</Sup>Th/<Sup>238</Sup>U)</Title>
      <Title x={561} y={1243} rot>Na<Sub>2</Sub>O (wt%)</Title>
      <Legend />
    </div>
  );
}
